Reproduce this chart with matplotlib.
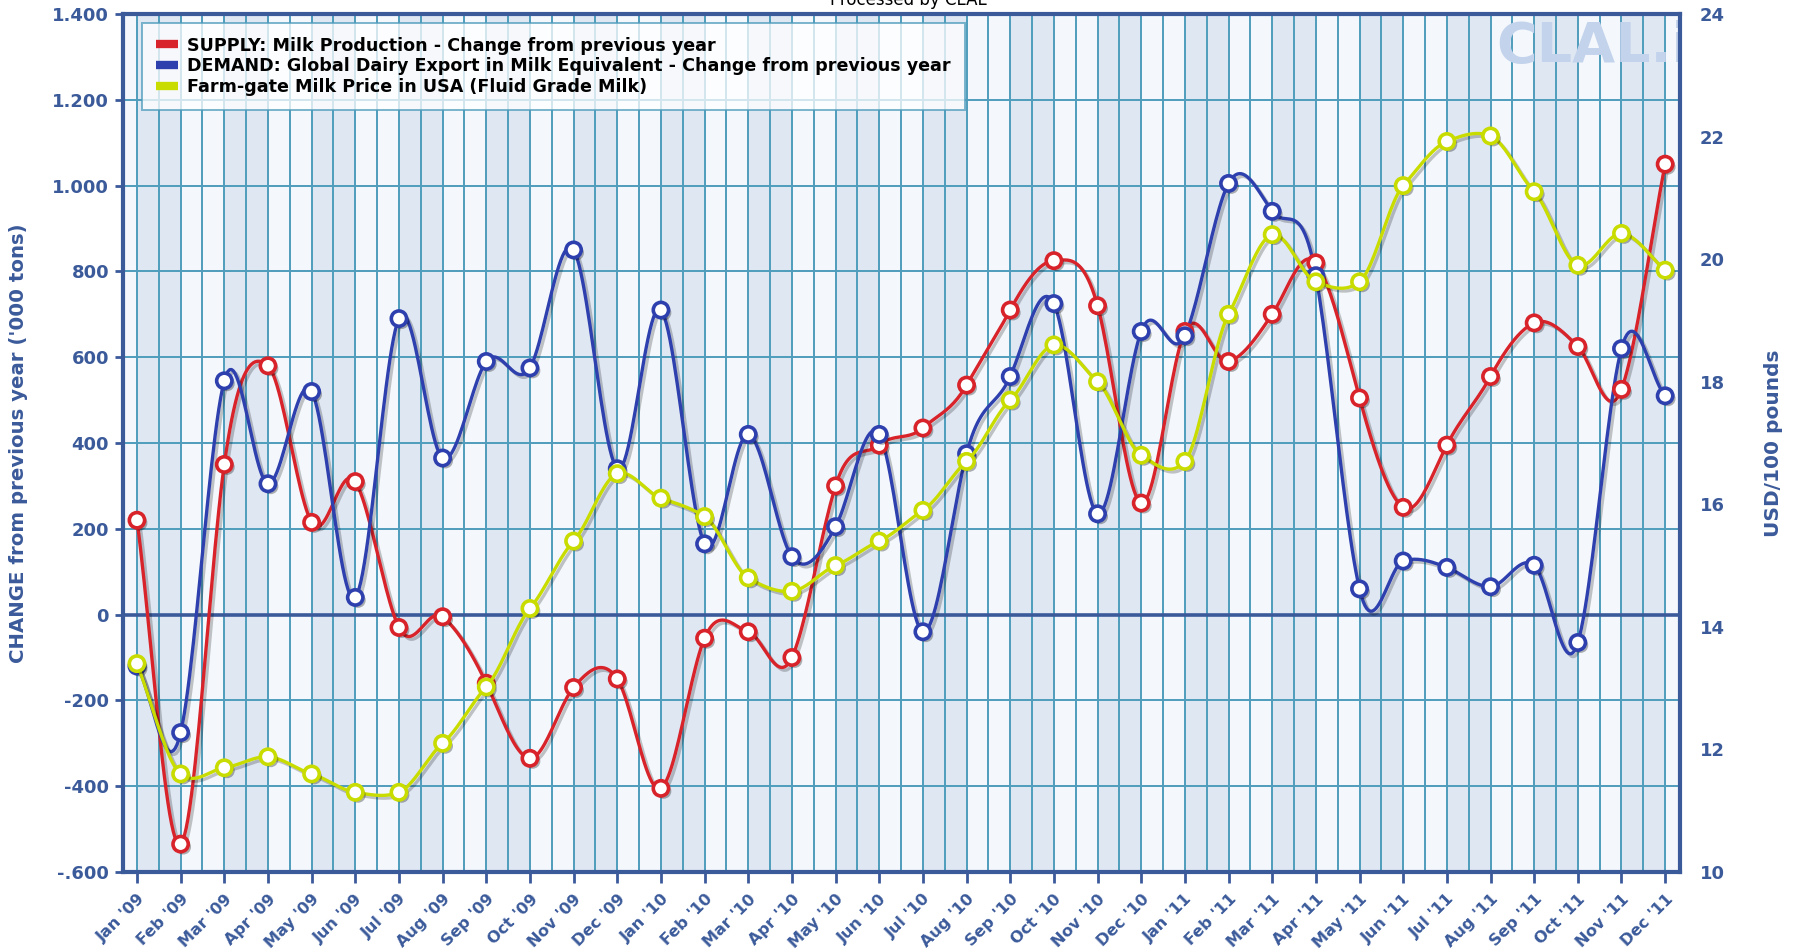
import numpy as np
import matplotlib
matplotlib.use("Agg")
import matplotlib.pyplot as plt
import matplotlib.patheffects as pe
from matplotlib.lines import Line2D

# --- data (monthly, Jan 2009 - Dec 2011) ---
month_names = ["Jan", "Feb", "Mar", "Apr", "May", "Jun",
               "Jul", "Aug", "Sep", "Oct", "Nov", "Dec"]
years = ["'09", "'10", "'11"]
month_labels = [f"{m} {y}" for y in years for m in month_names]

supply = [220, -535, 350, 580, 215, 310, -30, -5, -160, -335, -170, -150,
          -405, -55, -40, -100, 300, 395, 435, 535, 710, 825, 720, 260,
          660, 590, 700, 820, 505, 250, 395, 555, 680, 625, 525, 1050]

demand = [-120, -275, 545, 305, 520, 40, 690, 365, 590, 575, 850, 340,
          710, 165, 420, 135, 205, 420, -40, 375, 555, 725, 235, 660,
          650, 1005, 940, 790, 60, 125, 110, 65, 115, -65, 620, 510]

price = [13.4, 11.6, 11.7, 11.88, 11.6, 11.3, 11.3, 12.1, 13.02, 14.3, 15.4, 16.5,
         16.1, 15.8, 14.8, 14.58, 15.0, 15.4, 15.9, 16.7, 17.7, 18.6, 18.0, 16.8,
         16.7, 19.1, 20.4, 19.63, 19.63, 21.2, 21.92, 22.01, 21.1, 19.9, 20.42, 19.82]

series_names = ["SUPPLY: Milk Production - Change from previous year",
                "DEMAND: Global Dairy Export in Milk Equivalent - Change from previous year",
                "Farm-gate Milk Price in USA (Fluid Grade Milk)"]

left_ticks = [-600, -400, -200, 0, 200, 400, 600, 800, 1000, 1200, 1400]
left_tick_labels = ["-.600", "-400", "-200", "0", "200", "400", "600", "800",
                    "1.000", "1.200", "1.400"]
right_ticks = [10, 12, 14, 16, 18, 20, 22, 24]

RED = "#d8232a"
BLUE = "#2e3fae"
YELLOW = "#c9dc00"
AXBLUE = "#3b5a9a"
GRID = "#4f9cbc"


def spline(y, k=0.5, n=24):
    # cardinal spline through the points (drawing only)
    y = np.asarray(y, float)
    m = np.empty_like(y)
    m[1:-1] = k * (y[2:] - y[:-2])
    m[0] = y[1] - y[0]
    m[-1] = y[-1] - y[-2]
    t = np.linspace(0, 1, n, endpoint=False)
    h00 = 2 * t**3 - 3 * t**2 + 1
    h10 = t**3 - 2 * t**2 + t
    h01 = -2 * t**3 + 3 * t**2
    h11 = t**3 - t**2
    xs, ys = [], []
    for i in range(len(y) - 1):
        xs.append(i + t)
        ys.append(h00 * y[i] + h10 * m[i] + h01 * y[i + 1] + h11 * m[i + 1])
    xs.append([len(y) - 1])
    ys.append([y[-1]])
    return np.concatenate(xs), np.concatenate(ys)


fig = plt.figure(figsize=(18.02, 9.52), dpi=100)
ax = fig.add_axes([123 / 1802, 1 - 872 / 952, (1680 - 123) / 1802, (872 - 14) / 952])
x = np.arange(len(supply))

ax.set_xlim(-0.32, len(supply) - 1 + 0.34)
ax.set_ylim(-600, 1400)
ax.set_facecolor("#f4f8fc")

# month bands and half-month vertical lines
for i in range(-1, len(supply)):
    if i % 2 == 0:
        ax.axvspan(i, i + 1, color="#dfe7f3", lw=0, zorder=0)
for v in np.arange(-0.5, len(supply), 0.5):
    ax.axvline(v, color=GRID, lw=1.4, zorder=1)
for t in left_ticks[1:-1]:
    if t == 0:
        ax.axhline(t, color=AXBLUE, lw=2.6, zorder=1.5)
    else:
        ax.axhline(t, color=GRID, lw=1.4, zorder=1)

# watermark
ax.text(0.882, 0.993, "CLAL.it", transform=ax.transAxes, ha="left", va="top",
        fontsize=40, fontweight="bold", color="#c3d3ec", zorder=1.2, clip_on=True)

line_fx = [pe.SimpleLineShadow(offset=(2, -2), shadow_color="k", alpha=0.22), pe.Normal()]
mark_fx = [pe.SimplePatchShadow(offset=(2, -2), shadow_rgbFace="k", alpha=0.3), pe.Normal()]

for vals, col in [(supply, RED), (demand, BLUE)]:
    sx, sy = spline(vals, k=0.65)
    ax.plot(sx, sy, color=col, lw=2.4, zorder=3, path_effects=line_fx)
    ax.plot(x, vals, "o", ms=11, mfc="white", mec=col, mew=2.6, zorder=4,
            path_effects=mark_fx)

ax.set_yticks(left_ticks)
ax.set_yticklabels(left_tick_labels)
ax.set_xticks(x)
ax.set_xticklabels(month_labels, rotation=45, ha="right", rotation_mode="anchor")
ax.tick_params(axis="y", colors=AXBLUE, length=6, width=2, pad=4, labelsize=13)
ax.tick_params(axis="x", colors=AXBLUE, length=8, width=2, pad=6, labelsize=11.5)
for lab in ax.get_xticklabels() + ax.get_yticklabels():
    lab.set_fontweight("bold")
for sp in ax.spines.values():
    sp.set_color(AXBLUE)
    sp.set_linewidth(3)
ax.set_ylabel("CHANGE from previous year ('000 tons)", color=AXBLUE,
              fontsize=14.2, fontweight="bold")
ax.yaxis.set_label_coords(-0.061, 0.5)

ax2 = ax.twinx()
ax2.set_ylim(10, 24)
sx, sy = spline(price, k=0.35)
ax2.plot(sx, sy, color=YELLOW, lw=2.4, zorder=3, path_effects=line_fx)
ax2.plot(x, price, "o", ms=11, mfc="white", mec=YELLOW, mew=2.6, zorder=4,
         path_effects=mark_fx)
ax2.set_yticks(right_ticks)
ax2.tick_params(axis="y", colors=AXBLUE, length=0, pad=14, labelsize=13)
for lab in ax2.get_yticklabels():
    lab.set_fontweight("bold")
for sp in ax2.spines.values():
    sp.set_visible(False)
ax2.set_ylabel("USD/100 pounds", color=AXBLUE, fontsize=14.5, fontweight="bold")
ax2.yaxis.set_label_coords(1.054, 0.5)

handles = [Line2D([], [], color=c, lw=6, solid_capstyle="butt") for c in (RED, BLUE, YELLOW)]
leg = ax2.legend(handles, series_names, loc="upper left",
                 bbox_to_anchor=(0.012, 0.99), borderaxespad=0, frameon=True,
                 fancybox=False, edgecolor=GRID, facecolor="white", framealpha=0.75,
                 prop={"weight": "bold", "size": 12.6}, handlelength=1.3,
                 handletextpad=0.5, labelspacing=0.15, borderpad=0.8)
leg.get_frame().set_linewidth(1.4)
leg.set_zorder(10)

fig.text(0.504, 1.0, "Processed by CLAL", ha="center", va="center", fontsize=12)

fig.savefig("out.png", dpi=100)
